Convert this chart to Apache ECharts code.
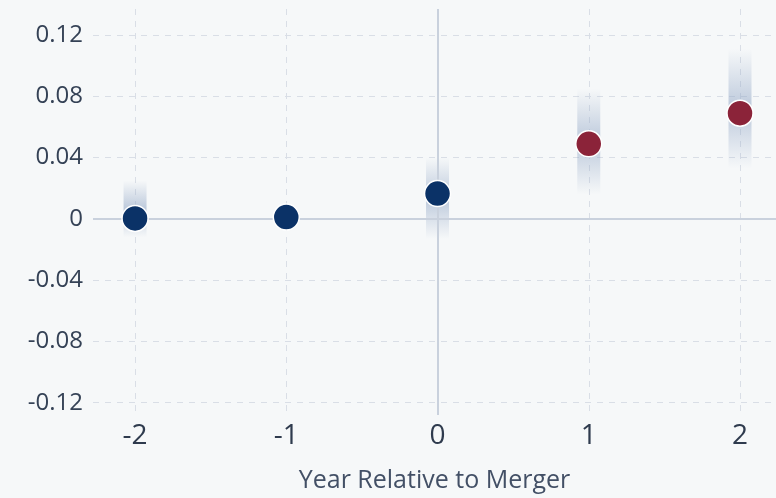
<!DOCTYPE html>
<html>
<head>
<meta charset="utf-8">
<script src="https://cdn.jsdelivr.net/npm/echarts@6/dist/echarts.min.js"></script>
<style>
html,body{margin:0;padding:0;background:#f6f8f9;}
#c{width:776px;height:498px;}
</style>
</head>
<body>
<div id="c"></div>
<script>
// Data
const years = [-2, -1, 0, 1, 2];
const estimates = [0.0003, 0.0012, 0.0165, 0.049, 0.069];
const ciLow = [-0.012, -0.004, -0.013, 0.016, 0.033];
const ciHigh = [0.025, 0.006, 0.040, 0.085, 0.111];
const isPost = [false, false, false, true, true];
const yTicks = [-0.12, -0.08, -0.04, 0, 0.04, 0.08, 0.12];
const xTicks = [-2, -1, 0, 1, 2];

const NAVY = '#0b3267';
const RED = '#8b2339';
const FONT = '"Open Sans", sans-serif';

const chart = echarts.init(document.getElementById('c'), null, {renderer: 'canvas'});

const bandData = years.map((y, i) => [y, ciLow[i], ciHigh[i]]);
const preData = years.map((y, i) => isPost[i] ? null : [y, estimates[i]]).filter(d => d);
const postData = years.map((y, i) => isPost[i] ? [y, estimates[i]] : null).filter(d => d);

const bandFill = new echarts.graphic.LinearGradient(0, 0, 0, 1, [
  {offset: 0, color: 'rgba(150,170,200,0)'},
  {offset: 0.5, color: 'rgba(150,170,200,0.6)'},
  {offset: 1, color: 'rgba(150,170,200,0)'}
]);

chart.setOption({
  backgroundColor: '#f6f8f9',
  animation: false,
  grid: {left: 93, right: 0, top: 9, bottom: 83},
  xAxis: {
    type: 'value', min: -2.278, max: 2.238,
    name: 'Year Relative to Merger', nameLocation: 'middle', nameGap: 53,
    nameTextStyle: {fontFamily: FONT, fontSize: 25, color: '#435066'},
    axisLine: {show: false},
    axisTick: {show: false, customValues: xTicks},
    axisLabel: {customValues: xTicks, fontFamily: FONT, fontSize: 28, color: '#2f3b4e', margin: 7,
      formatter: v => String(v)},
    splitLine: {show: true, lineStyle: {color: '#d9dee6', type: [6, 6], width: 1}}
  },
  yAxis: {
    type: 'value', min: -0.128, max: 0.137,
    axisLine: {show: false},
    axisTick: {show: false, customValues: yTicks},
    axisLabel: {customValues: yTicks, fontFamily: FONT, fontSize: 24, color: '#354256', margin: 10,
      formatter: v => (Math.abs(v) < 1e-9 ? '0' : String(+v.toFixed(2)))},
    splitLine: {show: true, lineStyle: {color: '#d9dee6', type: [6, 6], width: 1}}
  },
  series: [
    {
      type: 'custom',
      data: bandData,
      z: 3,
      renderItem: function (params, api) {
        const x = api.value(0), lo = api.value(1), hi = api.value(2);
        const p1 = api.coord([x, hi]);
        const p2 = api.coord([x, lo]);
        const w = 23;
        return {
          type: 'rect',
          shape: {x: p1[0] - w / 2, y: p1[1], width: w, height: p2[1] - p1[1]},
          style: {fill: bandFill}
        };
      },
      markLine: {
        silent: true, symbol: 'none', label: {show: false},
        lineStyle: {color: '#c9d1dd', width: 2, type: 'solid'},
        data: [{xAxis: 0}, {yAxis: 0}]
      }
    },
    {
      type: 'scatter', data: preData, z: 5,
      symbolSize: 26,
      itemStyle: {color: NAVY, borderColor: '#ffffff', borderWidth: 1.5, opacity: 1}
    },
    {
      type: 'scatter', data: postData, z: 5,
      symbolSize: 26,
      itemStyle: {color: RED, borderColor: '#ffffff', borderWidth: 1.5, opacity: 1}
    }
  ]
});
</script>
</body>
</html>
